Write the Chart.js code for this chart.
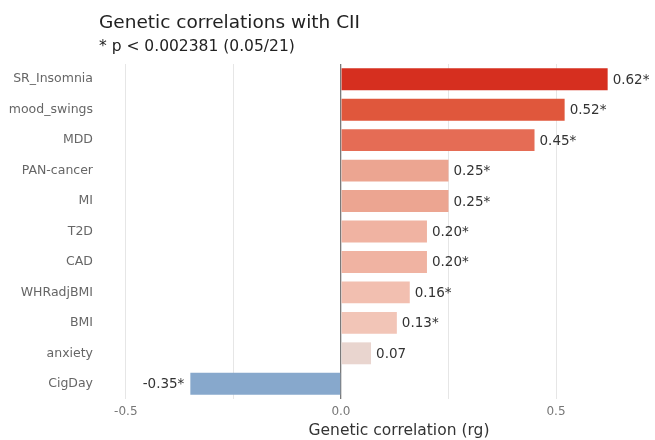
<!DOCTYPE html>
<html>
<head>
<meta charset="utf-8">
<script src="https://cdn.jsdelivr.net/npm/chart.js@4/dist/chart.umd.min.js"></script>
<style>
  html, body { margin: 0; padding: 0; background: #ffffff; }
  #frame { width: 655px; height: 440px; overflow: hidden; position: relative; }
  canvas { display: block; }
</style>
</head>
<body>
<div id="frame"><canvas id="chart" width="700" height="440"></canvas></div>
<script>
// Trait labels, top to bottom
const traits = ['SR_Insomnia', 'mood_swings', 'MDD', 'PAN-cancer', 'MI', 'T2D', 'CAD', 'WHRadjBMI', 'BMI', 'anxiety', 'CigDay'];
// Genetic correlation (rg) with CII
const rgValues = [0.62, 0.52, 0.45, 0.25, 0.25, 0.20, 0.20, 0.16, 0.13, 0.07, -0.35];
// Passes the Bonferroni threshold p < 0.002381
const significant = [true, true, true, true, true, true, true, true, true, false, true];
// Fill per bar (diverging red / blue by rg)
const barColors = ['#d62f1f', '#e0573c', '#e56c55', '#eca591', '#eca591', '#f0b3a2', '#f0b3a2', '#f2bfb0', '#f2c5b7', '#e9d5cf', '#87a8cc'];
// Vertical grid positions and the ones that carry a label
const gridValues = [-0.5, -0.25, 0, 0.25, 0.5];
const labeledTicks = [-0.5, 0, 0.5];

const FONT = '"DejaVu Sans", sans-serif';

const headerPlugin = {
  id: 'header',
  afterDraw(chart) {
    const ctx = chart.ctx;
    const left = chart.chartArea.left - 1;
    ctx.save();
    ctx.fillStyle = '#222222';
    ctx.textAlign = 'left';
    ctx.textBaseline = 'alphabetic';
    ctx.font = '18.5px ' + FONT;
    ctx.fillText('Genetic correlations with CII', left, 28);
    ctx.font = '15.5px ' + FONT;
    ctx.fillText('* p < 0.002381 (0.05/21)', left, 51);
    ctx.restore();
  }
};

const valueLabelPlugin = {
  id: 'valueLabels',
  afterDatasetsDraw(chart) {
    const ctx = chart.ctx;
    const meta = chart.getDatasetMeta(0);
    ctx.save();
    ctx.font = '13.5px ' + FONT;
    ctx.fillStyle = '#333333';
    ctx.textBaseline = 'middle';
    meta.data.forEach((bar, i) => {
      const v = rgValues[i];
      const text = v.toFixed(2) + (significant[i] ? '*' : '');
      if (v >= 0) {
        ctx.textAlign = 'left';
        ctx.fillText(text, bar.x + 5, bar.y + 1);
      } else {
        ctx.textAlign = 'right';
        ctx.fillText(text, bar.x - 6, bar.y + 1);
      }
    });
    ctx.restore();
  }
};

new Chart(document.getElementById('chart'), {
  type: 'bar',
  data: {
    labels: traits,
    datasets: [{
      data: rgValues,
      backgroundColor: barColors,
      borderWidth: 0,
      categoryPercentage: 1,
      barPercentage: 0.72
    }]
  },
  options: {
    indexAxis: 'y',
    responsive: false,
    animation: false,
    devicePixelRatio: 1,
    layout: { padding: { top: 64, right: 2, bottom: 0, left: 0 } },
    plugins: {
      legend: { display: false },
      tooltip: { enabled: false }
    },
    scales: {
      x: {
        type: 'linear',
        min: -0.56,
        max: 0.83,
        afterBuildTicks(scale) {
          scale.ticks = gridValues.map(v => ({ value: v }));
        },
        afterFit(scale) { scale.height = 41; },
        border: { display: false },
        grid: {
          drawTicks: false,
          color: c => (c.tick && c.tick.value === 0) ? '#7a7a7a' : '#e6e6e6',
          lineWidth: c => (c.tick && c.tick.value === 0) ? 1.3 : 1
        },
        ticks: {
          padding: 6,
          color: '#777777',
          font: { family: FONT, size: 12 },
          callback: v => labeledTicks.includes(v) ? v.toFixed(1) : ''
        },
        title: {
          display: true,
          text: 'Genetic correlation (rg)',
          color: '#333333',
          font: { family: FONT, size: 15.5 },
          padding: { top: 0, bottom: 0 }
        }
      },
      y: {
        afterFit(scale) { scale.width = 100; },
        border: { display: false },
        grid: { display: false, drawTicks: false },
        ticks: {
          padding: 7,
          color: '#666666',
          font: { family: FONT, size: 12.5 }
        }
      }
    }
  },
  plugins: [headerPlugin, valueLabelPlugin]
});
</script>
</body>
</html>
